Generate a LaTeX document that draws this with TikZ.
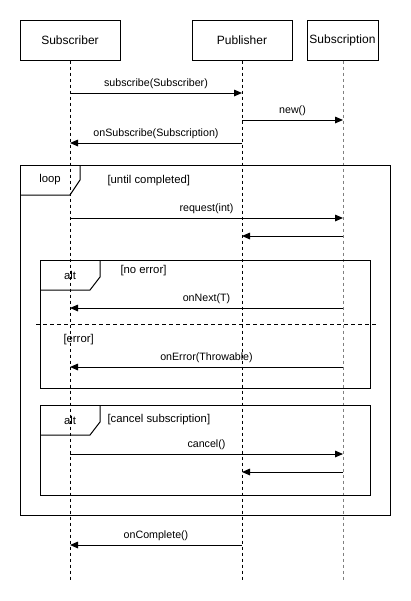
\documentclass[tikz,border=0pt]{standalone}
\usepackage{fontspec}
\setmainfont{Liberation Sans}
\usetikzlibrary{arrows.meta,calc,positioning}

\begin{document}
\begin{tikzpicture}[x=0.75pt, y=-0.75pt, line width=0.75pt,
  head/.style={draw, minimum height=30pt, inner sep=0pt, font=\fontsize{9}{10}\selectfont},
  life/.style={dash pattern=on 2.25pt off 2.25pt},
  msg/.style={-{Triangle[length=6pt,width=5pt]}},
  lbl/.style={above, inner sep=2.5pt, font=\fontsize{8}{9}\selectfont},
  ftxt/.style={inner sep=0pt, font=\fontsize{8.5}{10}\selectfont}]
  \useasboundingbox (0,0) rectangle (411,601);
  % participants
  \node[head, minimum width=75pt] (sub) at (70,40) {Subscriber};
  \node[head, minimum width=75pt] (pub) at (242,40) {Publisher};
  \node[head, minimum width=53.25pt] (subn) at (342.5,40) {Subscription};
  \coordinate (subE) at (70,580);
  \coordinate (pubE) at (242,580);
  \coordinate (subnE) at (343,580);
  \draw[life] (sub.south) -- (subE);
  \draw[life] (pub.south) -- (pubE);
  \draw[life, gray] (subn.south -| subnE) -- (subnE);
  % handshake
  \draw[msg] (sub |- 0,93) -- node[lbl] {subscribe(Subscriber)} (pub |- 0,93);
  \draw[msg] (pub |- 0,120) -- node[lbl] {new()} (subnE |- 0,120);
  \draw[msg] (pub |- 0,143) -- node[lbl] {onSubscribe(Subscription)} (sub |- 0,143);
  % loop frame
  \draw (20,165) rectangle (390,515);
  \draw (20,195) -- (70,195) -- (80,180) -- (80,165);
  \node[ftxt] (loopT) at (50,180) {loop};
  \node[ftxt, anchor=west] (loopG) at (107,181) {[until completed]};
  \draw[msg] (sub |- 0,218) -- node[lbl] {request(int)} (subnE |- 0,218);
  \draw[msg] (subnE |- 0,236) -- (pub |- 0,236);
  % alt: error or not
  \draw (40,260) rectangle (370,388);
  \draw (40,290) -- (90,290) -- (100,277) -- (100,260);
  \node[ftxt] (alt1T) at (70,275) {alt};
  \node[ftxt, anchor=west] (alt1G) at (120,271) {[no error]};
  \draw[msg] (subnE |- 0,308) -- node[lbl] {onNext(T)} (sub |- 0,308);
  \draw[dashed, dash pattern=on 3pt off 2.25pt] (36,324) -- (376,324);
  \node[ftxt, anchor=west] (alt1H) at (63,340) {[error]};
  \draw[msg] (subnE |- 0,367) -- node[lbl] {onError(Throwable)} (sub |- 0,367);
  % alt: cancel
  \draw (40,405) rectangle (370,495);
  \draw (40,435) -- (90,435) -- (100,422) -- (100,405);
  \node[ftxt] (alt2T) at (70,420) {alt};
  \node[ftxt, anchor=west] (alt2G) at (107,420) {[cancel subscription]};
  \draw[msg] (sub |- 0,454) -- node[lbl] {cancel()} (subnE |- 0,454);
  \draw[msg] (subnE |- 0,472) -- (pub |- 0,472);
  % completion
  \draw[msg] (pub |- 0,545) -- node[lbl] {onComplete()} (sub |- 0,545);
\end{tikzpicture}
\end{document}
